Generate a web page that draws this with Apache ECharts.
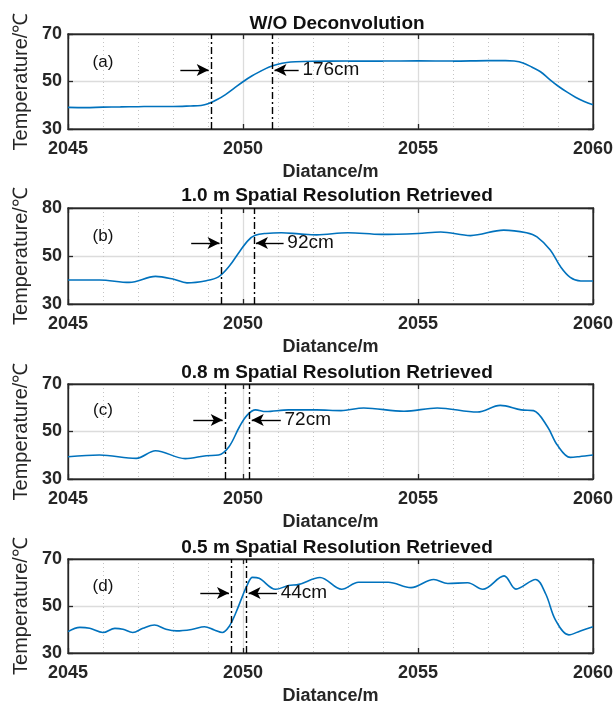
<!DOCTYPE html>
<html>
<head>
<meta charset="utf-8">
<script src="https://cdn.jsdelivr.net/npm/echarts@6/dist/echarts.min.js"></script>
<style>
  html, body { margin: 0; padding: 0; background: #fff; }
  #chart { width: 616px; height: 706px; }
</style>
</head>
<body>
<div id="chart"></div>
<script>
// panel titles and tags
const titles = ['W/O Deconvolution', '1.0 m Spatial Resolution Retrieved',
  '0.8 m Spatial Resolution Retrieved', '0.5 m Spatial Resolution Retrieved']
const tags = ['(a)', '(b)', '(c)', '(d)']
const widthLabels = ['176cm', '92cm', '72cm', '44cm']

// y tick labels (panel b is labelled 30/50/80 in the original)
const yTickLabels = [
  ['30', '50', '70'],
  ['30', '50', '80'],
  ['30', '50', '70'],
  ['30', '50', '70']
]

// (a) W/O deconvolution
const distA = [2045, 2045.5, 2046, 2046.5, 2047, 2047.5, 2048, 2048.5, 2048.8, 2049.0,
  2049.25, 2049.5, 2049.75, 2050, 2050.25, 2050.5, 2050.75, 2051, 2051.25, 2051.5,
  2052, 2053, 2054, 2055, 2056, 2057, 2057.5, 2057.75, 2058, 2058.25,
  2058.5, 2058.75, 2059, 2059.25, 2059.5, 2059.75, 2060]
const tempA = [39.1, 39.0, 39.2, 39.3, 39.4, 39.5, 39.5, 39.7, 39.9, 40.6,
  42.3, 44.5, 47.2, 49.9, 52.3, 54.3, 56.1, 57.3, 58.0, 58.3,
  58.5, 58.6, 58.6, 58.7, 58.6, 58.8, 58.8, 58.6, 57.8, 56.1,
  54.1, 51.0, 48.1, 45.6, 43.4, 41.6, 40.2]

// (b) 1.0 m retrieved
const distB = [2045, 2045.9, 2046.75, 2047.5, 2048, 2048.4, 2048.95, 2049.3, 2049.6, 2049.9,
  2050.15, 2050.35, 2050.65, 2051.1, 2051.6, 2052.1, 2053.0, 2053.95, 2055.0, 2055.65,
  2056.5, 2057.45, 2058.1, 2058.4, 2058.78, 2059.07, 2059.35, 2059.65, 2060]
const tempB = [40.0, 40.0, 39.0, 41.5, 40.4, 38.8, 39.7, 41.3, 45.6, 51.8,
  56.5, 58.6, 59.4, 59.7, 59.2, 58.8, 59.7, 59.0, 59.4, 60.0,
  58.5, 60.8, 59.7, 58.0, 52.5, 45.6, 41.1, 39.6, 39.6]

// (c) 0.8 m retrieved
const distC = [2045, 2045.9, 2046.95, 2047.5, 2048.35, 2048.95, 2049.3, 2049.6, 2049.9, 2050.12,
  2050.36, 2050.65, 2051.3, 2052.1, 2052.8, 2053.45, 2054.6, 2055.55, 2056.7, 2057.35,
  2057.95, 2058.3, 2058.7, 2058.98, 2059.35, 2059.6, 2060]
const tempC = [39.4, 40.1, 38.7, 41.9, 38.6, 39.8, 40.1, 43.6, 52.0, 56.9,
  59.1, 58.4, 59.1, 59.1, 58.8, 59.9, 58.5, 59.9, 58.2, 61.0,
  59.1, 58.8, 52.0, 44.3, 39.1, 39.4, 40.1]

// (d) 0.5 m retrieved
const distD = [2045, 2045.34, 2045.62, 2046.0, 2046.34, 2046.57, 2046.85, 2047.14, 2047.47, 2047.8,
  2048.1, 2048.56, 2048.9, 2049.18, 2049.41, 2049.6, 2049.79, 2049.98, 2050.12, 2050.27,
  2050.46, 2050.93, 2051.3, 2051.6, 2052.2, 2052.82, 2053.3, 2054.15, 2054.8, 2055.45,
  2055.85, 2056.42, 2056.85, 2057.46, 2057.8, 2058.36, 2058.65, 2058.93, 2059.31, 2059.64,
  2060]
const tempD = [39.1, 40.9, 40.5, 38.7, 40.5, 40.1, 38.7, 40.5, 41.9, 40.1,
  39.4, 40.1, 41.2, 39.8, 38.7, 41.2, 46.9, 54.0, 58.9, 62.2,
  61.8, 57.1, 58.7, 59.2, 62.1, 57.1, 60.1, 60.1, 57.8, 61.3,
  59.6, 59.9, 57.1, 62.8, 57.2, 61.3, 55.1, 44.0, 37.7, 39.4,
  41.2]

// rising-edge markers (dash-dot lines)
const edgeLeft = [2049.08, 2049.39, 2049.48, 2049.66]
const edgeRight = [2050.84, 2050.31, 2050.19, 2050.10]

const dists = [distA, distB, distC, distD]
const temps = [tempA, tempB, tempC, tempD]

// layout / annotation placement
const grids = [
  { left: 68, right: 20, top: 34, height: 95 },
  { left: 68, right: 20, top: 208, height: 96 },
  { left: 68, right: 20, top: 384, height: 95 },
  { left: 68, right: 20, top: 559, height: 94 }
]
const titleTops = [9, 181, 358, 533]
const arrowY = [54.8, 55.4, 54.8, 55.5]
const arrowTailL = [2048.21, 2048.52, 2048.58, 2048.78]
const arrowTailR = [2051.59, 2051.16, 2051.08, 2050.97]
const tagPos = [[2046, 58.2], [2046, 58.0], [2046, 58.8], [2046, 58.5]]

const FONT = 'Liberation Sans'
const INK = '#262626'
const BLUE = '#0072BD'

const xAxis = []
const yAxis = []
const series = []
const title = []

grids.forEach((g, i) => {
  title.push({
    text: titles[i],
    left: 332,
    top: titleTops[i],
    textAlign: 'center',
    textStyle: { fontFamily: FONT, fontSize: 19, fontWeight: 'bold', color: '#111' }
  })

  xAxis.push({
    gridIndex: i,
    type: 'value',
    min: 2045,
    max: 2060,
    interval: 5,
    name: 'Diatance/m',
    nameLocation: 'middle',
    nameGap: 34,
    nameTextStyle: { fontFamily: FONT, fontSize: 18, fontWeight: 'bold', color: INK },
    axisLine: { onZero: false, lineStyle: { color: INK, width: 1.3 } },
    axisTick: { inside: true, length: 5, lineStyle: { color: INK, width: 1.3 } },
    axisLabel: {
      fontFamily: FONT, fontSize: 18, fontWeight: 'bold', color: INK, margin: 11,
      formatter: v => String(v)
    },
    splitLine: { show: true, lineStyle: { color: '#dcdcdc', width: 1.3 } },
    minorTick: { show: false, splitNumber: 5 },
    minorSplitLine: { show: true, lineStyle: { color: '#c4c4c4', width: 1, type: [1, 3] } }
  })
  xAxis.push({
    gridIndex: i,
    type: 'value',
    position: 'top',
    min: 2045,
    max: 2060,
    interval: 5,
    axisLine: { onZero: false, lineStyle: { color: INK, width: 1.3 } },
    axisTick: { inside: true, length: 5, lineStyle: { color: INK, width: 1.3 } },
    axisLabel: { show: false },
    splitLine: { show: false }
  })

  const labels = yTickLabels[i]
  yAxis.push({
    gridIndex: i,
    type: 'value',
    min: 30,
    max: 70,
    interval: 20,
    name: 'Temperature/℃',
    nameLocation: 'middle',
    nameGap: 31,
    nameTextStyle: { fontFamily: FONT, fontSize: 20, color: INK },
    axisLine: { onZero: false, lineStyle: { color: INK, width: 1.3 } },
    axisTick: { inside: true, length: 5, lineStyle: { color: INK, width: 1.3 } },
    axisLabel: {
      fontFamily: FONT, fontSize: 18, fontWeight: 'bold', color: INK, margin: 6,
      formatter: v => labels[Math.round((v - 30) / 20)]
    },
    splitLine: { show: true, lineStyle: { color: '#dcdcdc', width: 1.3 } }
  })
  yAxis.push({
    gridIndex: i,
    type: 'value',
    position: 'right',
    min: 30,
    max: 70,
    interval: 20,
    axisLine: { onZero: false, lineStyle: { color: INK, width: 1.3 } },
    axisTick: { inside: true, length: 5, lineStyle: { color: INK, width: 1.3 } },
    axisLabel: { show: false },
    splitLine: { show: false }
  })

  const dashDot = { color: '#000', width: 1.4, type: [7, 3, 2, 3] }
  const arrowStyle = { color: '#000', width: 1.4, type: 'solid' }

  series.push({
    type: 'line',
    xAxisIndex: 2 * i,
    yAxisIndex: 2 * i,
    data: dists[i].map((d, k) => [d, temps[i][k]]),
    showSymbol: false,
    smooth: 0.35,
    lineStyle: { color: BLUE, width: 1.6 },
    itemStyle: { color: BLUE },
    animation: false,
    silent: true,
    markLine: {
      silent: true,
      animation: false,
      symbol: ['none', 'none'],
      label: { show: false },
      emphasis: { disabled: true },
      data: [
        [{ coord: [edgeLeft[i], 30], lineStyle: dashDot }, { coord: [edgeLeft[i], 70] }],
        [{ coord: [edgeRight[i], 30], lineStyle: dashDot }, { coord: [edgeRight[i], 70] }],
        [
          { coord: [arrowTailL[i], arrowY[i]], symbol: 'none', lineStyle: arrowStyle },
          { coord: [edgeLeft[i] - 0.06, arrowY[i]], symbol: 'arrow', symbolSize: [9, 12] }
        ],
        [
          { coord: [arrowTailR[i], arrowY[i]], symbol: 'none', lineStyle: arrowStyle },
          { coord: [edgeRight[i] + 0.06, arrowY[i]], symbol: 'arrow', symbolSize: [9, 12] }
        ]
      ]
    },
    markPoint: {
      silent: true,
      animation: false,
      symbol: 'circle',
      symbolSize: 0,
      data: [
        {
          coord: tagPos[i],
          label: { show: true, formatter: tags[i], position: 'inside', fontFamily: FONT, fontSize: 17, color: '#111' }
        },
        {
          coord: [arrowTailR[i] + 0.05, arrowY[i]],
          label: { show: true, formatter: widthLabels[i], position: 'right', distance: 2, fontFamily: FONT, fontSize: 19, color: '#111' }
        }
      ]
    }
  })
})

const chart = echarts.init(document.getElementById('chart'), null, { renderer: 'canvas' })
chart.setOption({
  backgroundColor: '#fff',
  animation: false,
  title,
  grid: grids.map(g => Object.assign({ show: true, borderColor: INK, borderWidth: 1.3, backgroundColor: 'transparent' }, g)),
  xAxis,
  yAxis,
  series
})
</script>
</body>
</html>
